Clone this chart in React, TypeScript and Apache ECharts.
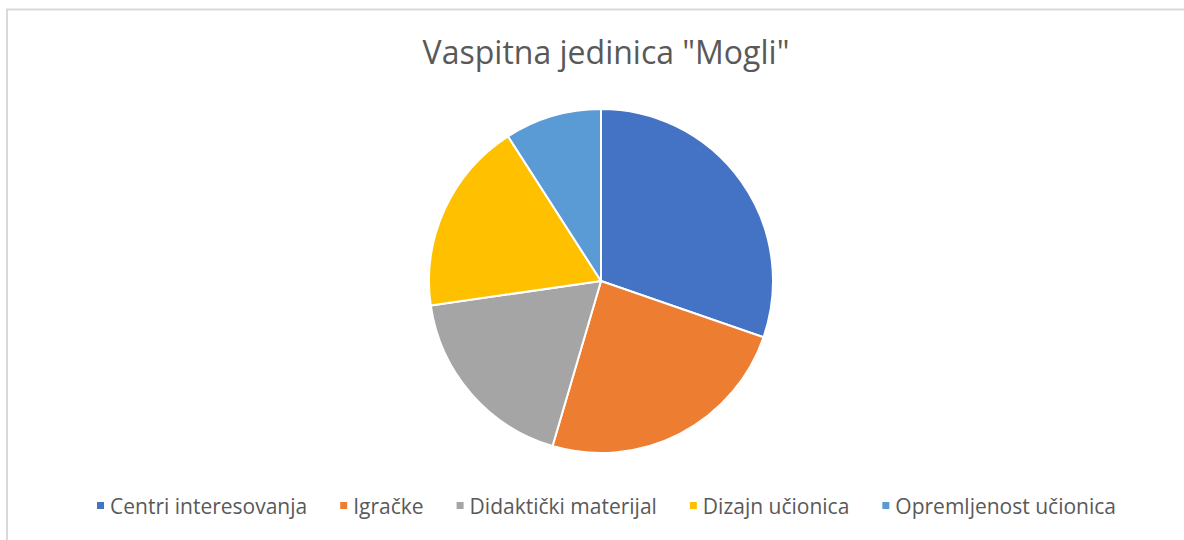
import React, { useEffect, useRef } from "react";
import * as echarts from "echarts";

const categories = [
  "Centri interesovanja",
  "Igračke",
  "Didaktički materijal",
  "Dizajn učionica",
  "Opremljenost učionica",
];
const values = [10, 8, 6, 6, 3];
const colors = ["#4472C4", "#ED7D31", "#A5A5A5", "#FFC000", "#5B9BD5"];
const titleText = 'Vaspitna jedinica "Mogli"';

export default function App() {
  const ref = useRef<HTMLDivElement>(null);
  useEffect(() => {
    if (!ref.current) return;
    const chart = echarts.init(ref.current, undefined, { renderer: "svg" });
    chart.setOption({
      animation: false,
      backgroundColor: "#ffffff",
      title: {
        text: titleText,
        left: 601,
        textAlign: "center",
        top: 30,
        textStyle: {
          fontFamily: "Open Sans",
          fontSize: 32,
          fontWeight: "normal",
          color: "#595959",
        },
      },
      legend: {
        bottom: 19,
        left: 90,
        icon: "rect",
        itemWidth: 9,
        itemHeight: 9,
        itemGap: 31,
        textStyle: {
          fontFamily: "Open Sans",
          fontSize: 21,
          color: "#595959",
        },
        data: categories,
      },
      graphic: [
        {
          type: "rect",
          shape: { x: 7, y: 9.5, width: 1400, height: 700 },
          style: { fill: "none", stroke: "#d9d9d9", lineWidth: 2 },
          silent: true,
        },
      ],
      series: [
        {
          type: "pie",
          center: [601, 281],
          radius: 172,
          startAngle: 90,
          clockwise: true,
          label: { show: false },
          labelLine: { show: false },
          itemStyle: { borderColor: "#ffffff", borderWidth: 2 },
          emphasis: { disabled: true },
          data: categories.map((c, i) => ({
            name: c,
            value: values[i],
            itemStyle: { color: colors[i] },
          })),
        },
      ],
    });
    return () => chart.dispose();
  }, []);
  return (
    <div
      ref={ref}
      style={{ position: "fixed", left: 0, top: 0, width: 1184, height: 540 }}
    />
  );
}
